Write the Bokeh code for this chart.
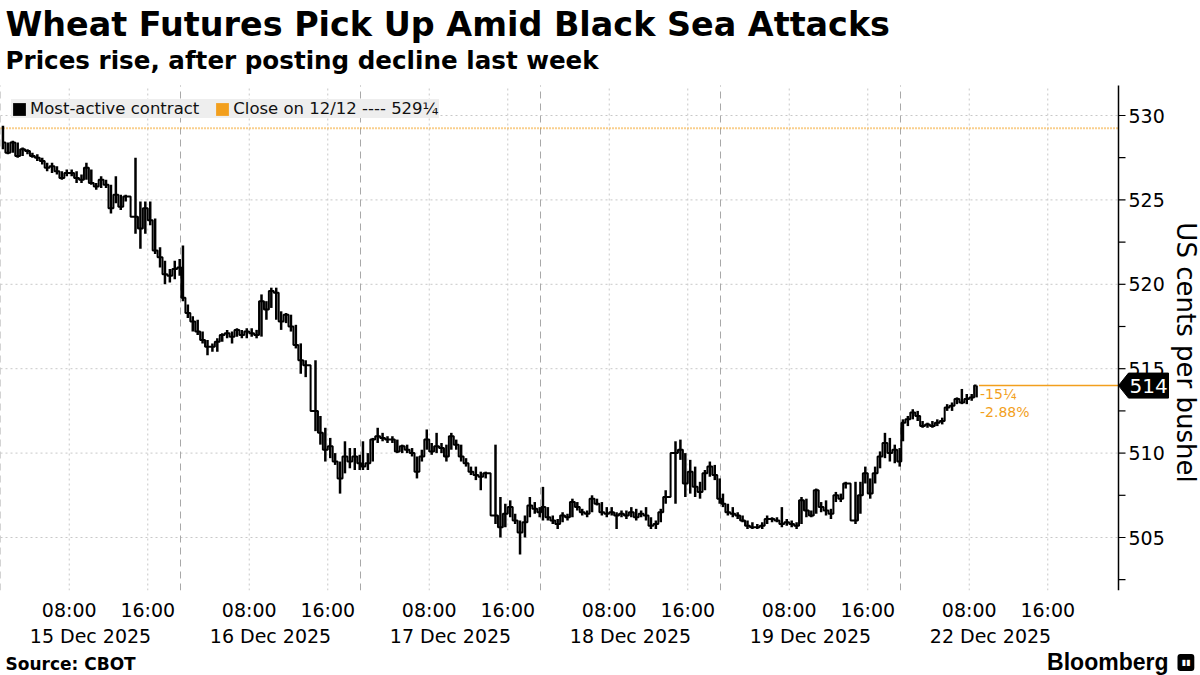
import math
from bokeh.plotting import figure
from bokeh.layouts import column
from bokeh.models import (Range1d, LinearAxis, FixedTicker, Label, Legend, LegendItem)
from bokeh.core.properties import value
from bokeh.embed import file_html
from bokeh.resources import INLINE

# ---------------- text ----------------
title_text = "Wheat Futures Pick Up Amid Black Sea Attacks"
subtitle_text = "Prices rise, after posting decline last week"
source_text = "Source: CBOT"
brand_text = "Bloomberg"
y_label = "US cents per bushel"
series_label = "Most-active contract"
close_label = "Close on 12/12 ---- 529\u00bc"
day_labels = ["15 Dec 2025", "16 Dec 2025", "17 Dec 2025",
              "18 Dec 2025", "19 Dec 2025", "22 Dec 2025"]
hour_labels = ["08:00", "16:00"]
hour_values = [8, 16]
y_ticks = [505, 510, 515, 520, 525, 530]
y_minor = [502.5, 507.5, 512.5, 517.5, 522.5, 527.5]
prev_close = 529.25

# ---------------- data: 30-minute bars from 01:00 UTC (None = CBOT break) ----------------
d1_close = [528.4, 527.8, 528.4, 527.6, 528.0, 527.9, 527.6, 527.5, 527.3, 526.9, 527.0, 526.7, 526.3,
            526.6, 526.6, 526.3, 526.2, 526.9, 526.0, 525.8, 526.2, 525.9, 524.5, 525.3, 524.6, 525.2,
            None, 524.0, 523.3, 524.5, 523.8, 522.0, 521.6, 520.6, 520.5, 520.9, 521.0]
d1_high = [529.4, 528.4, 528.5, 528.4, 528.1, 528.0, 527.8, 527.7, 527.5, 527.2, 527.2, 527.0, 526.7,
           526.8, 526.8, 526.7, 526.5, 527.2, 526.8, 526.0, 526.4, 526.2, 525.9, 526.4, 525.3, 525.3,
           None, 527.5, 524.9, 524.9, 524.9, 523.9, 522.2, 521.4, 520.9, 521.4, 521.5]
d1_low = [528.0, 527.7, 527.8, 527.5, 527.6, 527.7, 527.5, 527.3, 527.1, 526.7, 526.6, 526.5, 526.2,
          526.4, 526.4, 526.0, 526.0, 526.2, 525.9, 525.6, 525.7, 525.7, 524.2, 524.8, 524.4, 524.9,
          None, 523.0, 522.1, 523.0, 523.5, 521.8, 521.0, 520.0, 520.1, 520.3, 520.5]

d2_close = [519.2, 518.3, 517.8, 517.2, 516.7, 516.3, 516.3, 516.6, 517.0, 517.1, 516.9, 517.3, 517.0,
            517.2, 517.1, 517.0, 519.0, 518.5, 519.6, 519.5, 517.8, 518.2, 517.5, 516.4, 515.5, 515.2,
            None, 512.5, 511.2, 510.2, 510.4, 509.5, 508.5, 509.8, 509.5, 509.8, 509.4]
d2_high = [522.3, 518.8, 518.1, 517.9, 517.2, 516.7, 516.5, 516.8, 517.1, 517.3, 517.2, 517.4, 517.3,
           517.4, 517.4, 517.3, 519.4, 519.0, 519.8, 519.8, 518.4, 518.3, 518.2, 517.6, 516.5, 515.5,
           None, 515.5, 512.2, 511.5, 510.9, 510.0, 509.5, 510.7, 510.3, 510.3, 509.9]
d2_low = [519.0, 518.0, 517.2, 517.0, 516.5, 515.8, 516.0, 516.0, 516.6, 516.8, 516.5, 516.9, 516.8,
          516.8, 516.9, 516.8, 516.9, 517.9, 518.6, 517.9, 517.3, 517.7, 517.2, 516.2, 514.7, 514.5,
          None, 511.3, 510.5, 509.5, 509.7, 509.3, 507.6, 508.8, 509.1, 509.0, 509.0]

d3_close = [509.2, 509.4, 510.8, 511.0, 510.9, 510.8, 510.8, 510.1, 510.4, 510.2, 510.0, 508.9, 509.8,
            510.8, 510.1, 510.4, 510.3, 509.8, 511.0, 510.5, 509.8, 509.4, 508.9, 508.7, 508.6, 508.8,
            None, 506.3, 505.6, 506.4, 506.8, 506.0, 505.3, 505.9, 506.9, 506.7, 506.5]
d3_high = [510.7, 510.0, 510.9, 511.5, 511.2, 511.0, 511.0, 510.8, 510.5, 510.5, 510.3, 509.8, 510.2,
           511.4, 510.6, 511.2, 510.6, 510.5, 511.2, 510.8, 510.5, 509.7, 509.2, 509.2, 508.9, 508.9,
           None, 510.5, 507.4, 507.0, 507.2, 506.4, 506.0, 506.3, 507.4, 507.1, 506.8]
d3_low = [509.0, 509.0, 509.5, 510.6, 510.7, 510.6, 510.6, 510.0, 510.0, 510.0, 509.8, 508.5, 509.5,
          510.2, 509.9, 510.0, 510.0, 509.5, 510.2, 510.2, 509.5, 509.2, 508.7, 508.4, 507.8, 508.5,
          None, 505.8, 505.0, 505.6, 506.2, 505.8, 504.0, 505.0, 506.2, 506.4, 506.2]

d4_close = [506.8, 506.2, 506.0, 505.8, 506.3, 506.2, 507.1, 506.8, 506.5, 506.4, 507.3, 507.0, 506.5,
            506.4, 506.5, 506.3, 506.4, 506.3, 506.5, 506.2, 506.4, 506.3, 505.7, 505.8, 506.5, 507.4,
            None, 510.0, 510.2, 508.2, 508.9, 508.0, 507.7, 508.8, 509.2, 508.7, 507.3]
d4_high = [508.0, 506.8, 506.3, 506.1, 506.5, 506.4, 507.3, 507.1, 506.7, 506.6, 507.5, 507.3, 507.1,
           506.8, 506.8, 506.5, 506.6, 506.6, 506.8, 506.7, 506.6, 506.8, 506.2, 506.0, 506.7, 507.8,
           None, 510.7, 510.8, 510.0, 509.6, 509.2, 508.3, 509.0, 509.5, 509.3, 508.5]
d4_low = [506.0, 506.0, 505.8, 505.5, 505.9, 506.0, 506.2, 506.6, 506.3, 506.2, 506.5, 506.9, 506.3,
          506.2, 506.3, 505.5, 506.2, 506.1, 506.2, 506.0, 506.2, 506.0, 505.5, 505.5, 505.9, 507.0,
          None, 507.0, 509.6, 507.4, 507.6, 507.4, 507.3, 507.8, 508.6, 508.4, 507.0]

d5_close = [507.0, 506.5, 506.4, 506.3, 506.0, 505.7, 505.6, 505.6, 505.7, 506.1, 506.1, 506.0, 505.8,
            505.9, 505.8, 505.7, 507.2, 506.6, 506.3, 507.8, 506.8, 506.6, 506.4, 507.5, 507.3, 508.2,
            None, 506.0, 507.5, 508.8, 507.6, 508.8, 509.8, 510.6, 510.0, 510.2, 509.5]
d5_high = [507.6, 507.0, 506.8, 506.5, 506.3, 506.0, 505.9, 505.8, 505.9, 506.3, 506.2, 506.2, 506.8,
           506.1, 506.0, 505.9, 507.4, 507.3, 506.6, 507.9, 507.1, 507.2, 506.7, 507.7, 507.6, 508.3,
           None, 508.3, 508.3, 509.2, 508.5, 509.2, 510.1, 511.2, 510.9, 510.5, 510.3]
d5_low = [506.8, 506.3, 506.2, 506.1, 505.9, 505.5, 505.5, 505.5, 505.5, 505.8, 505.9, 505.9, 505.6,
          505.7, 505.6, 505.5, 505.8, 506.2, 506.2, 506.4, 506.5, 506.3, 506.1, 507.1, 507.1, 507.9,
          None, 505.8, 506.4, 508.2, 507.3, 508.2, 509.1, 509.7, 509.5, 509.4, 509.2]

d6_close = [511.8, 512.0, 512.4, 512.2, 511.6, 511.7, 511.6, 511.8, 511.9, 512.7, 512.8, 513.2, 513.0,
            513.2, 513.3, 514.0]
d6_high = [512.0, 512.2, 512.6, 512.5, 511.9, 511.8, 511.9, 512.0, 512.1, 512.9, 513.0, 513.3, 513.8,
           513.5, 513.5, 514.0]
d6_low = [510.7, 511.6, 512.0, 511.9, 511.5, 511.5, 511.5, 511.6, 511.7, 512.5, 512.5, 512.9, 512.9,
          512.9, 513.1, 513.3]

days_close = [d1_close, d2_close, d3_close, d4_close, d5_close, d6_close]
days_high = [d1_high, d2_high, d3_high, d4_high, d5_high, d6_high]
days_low = [d1_low, d2_low, d3_low, d4_low, d5_low, d6_low]

# ---------------- session axis (gaps between sessions removed) ----------------
SESSION_START = 1.0             # 01:00 UTC
DAY_LEN = 18.0 + 1.0 / 3.0      # 01:00 -> 19:20 UTC
BAR = 0.5
DAY_PX = 180.0                  # pixels per session
W, H_MAIN, H_FOOT = 1200, 650, 25
FRAME_BOTTOM_PX = 590           # x axes live below this
X_AXIS = 1118 / DAY_PX * DAY_LEN        # where the price axis sits
X_RIGHT = W / DAY_PX * DAY_LEN
PX_X = DAY_LEN / DAY_PX                  # data units per pixel (x)
PX_PER_CENT = 16.88
PX_Y = 1 / PX_PER_CENT                   # data units per pixel (y)
Y_BOT = 505 - 53 * PX_Y                  # frame bottom
Y_PLOT_TOP = 530 + 30 * PX_Y             # top of plotting area
Y_TOP = 530 + 115 * PX_Y                 # top of canvas

xs, cs, hs, ls = [], [], [], []
for d, (cc, hh, ll) in enumerate(zip(days_close, days_high, days_low)):
    for k, (c, h, l) in enumerate(zip(cc, hh, ll)):
        if c is None:
            continue
        xs.append(d * DAY_LEN + k * BAR + BAR / 2)
        cs.append(c)
        hs.append(h)
        ls.append(l)

last_close = cs[-1]
last_x = xs[-1] + BAR / 2
diff = last_close - prev_close
whole = int(abs(diff))
frac = {0.0: "", 0.25: "\u00bc", 0.5: "\u00bd", 0.75: "\u00be"}[round(abs(diff) - whole, 2)]
chg_text = ("-" if diff < 0 else "+") + f"{whole}{frac}"
pct_text = f"{diff / prev_close * 100:+.2f}%"

hour_ticks, hour_over = [], {}
for d in range(7):
    for lab, hv in zip(hour_labels, hour_values):
        t = d * DAY_LEN + (hv - SESSION_START)
        if t < X_AXIS:
            hour_ticks.append(t)
            hour_over[t] = lab
day_starts = [d * DAY_LEN for d in range(len(day_labels))]
day_centers = [d * DAY_LEN + DAY_LEN / 2 for d in range(len(day_labels))]
day_over = {c: lab for c, lab in zip(day_centers, day_labels)}

FONT = "DejaVu Sans"
ORANGE = "#F29F1D"

p_main = figure(width=W, height=H_MAIN, output_backend="svg", toolbar_location=None,
                x_range=Range1d(0, X_RIGHT), y_range=Range1d(Y_BOT, Y_TOP),
                x_axis_type=None, y_axis_type=None,
                min_border_left=0, min_border_right=0, min_border_top=0,
                min_border_bottom=H_MAIN - FRAME_BOTTOM_PX,
                outline_line_color=None, background_fill_color="white", border_fill_color="white")

# grid lines (limited to the plotting area)
p_main.segment(x0=[0] * len(y_ticks), y0=y_ticks, x1=[X_AXIS] * len(y_ticks), y1=y_ticks,
               line_color="#c8c8c8", line_dash="2 3", line_width=1)
p_main.segment(x0=hour_ticks, y0=[Y_BOT] * len(hour_ticks), x1=hour_ticks, y1=[Y_PLOT_TOP] * len(hour_ticks),
               line_color="#c8c8c8", line_dash="2 3", line_width=1)
p_main.segment(x0=day_starts, y0=[Y_BOT] * len(day_starts), x1=day_starts, y1=[Y_PLOT_TOP] * len(day_starts),
               line_color="#a8a8a8", line_dash="7 5", line_width=1)

# previous close line
p_main.segment(x0=[0], y0=[prev_close], x1=[X_AXIS], y1=[prev_close],
               line_color=ORANGE, line_dash="1 2", line_width=2)

# price bars
p_main.segment(x0=xs, y0=ls, x1=xs, y1=hs, line_color="black", line_width=2.5)
p_main.step(xs, cs, mode="center", line_color="black", line_width=2)
p_main.segment(x0=[last_x], y0=[last_close], x1=[X_AXIS], y1=[last_close], line_color=ORANGE, line_width=1.5)

# price axis on the right (drawn in the frame so the last-price tag can sit over it)
all_y = y_ticks + y_minor
p_main.segment(x0=[X_AXIS], y0=[Y_BOT], x1=[X_AXIS], y1=[Y_PLOT_TOP], line_color="black", line_width=1.5)
p_main.ray(x=[X_AXIS] * len(all_y), y=all_y, length=7, length_units="screen", angle=0,
           line_color="black", line_width=1.2)
p_main.text(x=[X_AXIS] * len(y_ticks), y=y_ticks, text=[f"{t}" for t in y_ticks], x_offset=10,
            text_font=value(FONT), text_font_size="19px", text_baseline="middle", text_align="left",
            text_color="black")

# last price tag
tag_x = [X_AXIS, X_AXIS + 10 * PX_X, X_AXIS + 50 * PX_X, X_AXIS + 50 * PX_X, X_AXIS + 10 * PX_X]
tag_y = [last_close, last_close + 12.5 * PX_Y, last_close + 12.5 * PX_Y,
         last_close - 12.5 * PX_Y, last_close - 12.5 * PX_Y]
p_main.patch(tag_x, tag_y, fill_color="black", line_color="black")
p_main.text(x=[X_AXIS], y=[last_close], text=[f"{last_close:.0f}"], x_offset=11,
            text_font=value(FONT), text_font_size="20px", text_baseline="middle", text_align="left",
            text_color="white")
p_main.add_layout(Label(x=last_x, y=last_close, x_offset=1, y_offset=-8, text=chg_text, text_color=ORANGE,
                        text_font=FONT, text_font_size="14px", text_baseline="middle", text_align="left"))
p_main.add_layout(Label(x=last_x, y=last_close, x_offset=1, y_offset=-26, text=pct_text, text_color=ORANGE,
                        text_font=FONT, text_font_size="14px", text_baseline="middle", text_align="left"))

# axis title
p_main.add_layout(Label(x=1185, y=FRAME_BOTTOM_PX - 352, x_units="screen", y_units="screen", text=y_label,
                        angle=-math.pi / 2, text_font=FONT, text_font_size="26px",
                        text_baseline="middle", text_align="center", text_color="black"))

# legend
nan = float("nan")
r_black = p_main.quad(left=[nan], right=[nan], top=[nan], bottom=[nan], fill_color="black", line_color=None)
r_orange = p_main.quad(left=[nan], right=[nan], top=[nan], bottom=[nan], fill_color=ORANGE, line_color=None)
legend = Legend(items=[LegendItem(label=series_label, renderers=[r_black]),
                       LegendItem(label=close_label, renderers=[r_orange])],
                location=(11, FRAME_BOTTOM_PX - 118), orientation="horizontal",
                label_text_font=FONT, label_text_font_size="16.5px", label_text_color="#111111",
                background_fill_color="#eeeeee", background_fill_alpha=1.0,
                border_line_color=None, padding=7, spacing=15, margin=0,
                glyph_width=16, glyph_height=16, label_standoff=3, label_height=16)
p_main.add_layout(legend)

# titles
p_main.add_layout(Label(x=5, y=FRAME_BOTTOM_PX - 24, x_units="screen", y_units="screen", text=title_text,
                        text_font=FONT, text_font_style="bold", text_font_size="33.4px",
                        text_baseline="middle", text_color="black"))
p_main.add_layout(Label(x=5, y=FRAME_BOTTOM_PX - 60, x_units="screen", y_units="screen", text=subtitle_text,
                        text_font=FONT, text_font_style="bold", text_font_size="24.6px",
                        text_baseline="middle", text_color="black"))

# x axes (time of day, then session date)
ax_h = LinearAxis(ticker=FixedTicker(ticks=hour_ticks), major_label_overrides=hour_over,
                  axis_line_color=None, major_tick_line_color=None, minor_tick_line_color=None,
                  major_tick_in=0, major_tick_out=0, minor_tick_in=0, minor_tick_out=0,
                  major_label_text_font=FONT, major_label_text_font_size="19px",
                  major_label_text_color="black", major_label_standoff=8)
ax_d = LinearAxis(ticker=FixedTicker(ticks=day_centers), major_label_overrides=day_over,
                  axis_line_color=None, major_tick_line_color=None, minor_tick_line_color=None,
                  major_tick_in=0, major_tick_out=0, minor_tick_in=0, minor_tick_out=0,
                  major_label_text_font=FONT, major_label_text_font_size="19px",
                  major_label_text_color="black", major_label_standoff=1)
p_main.add_layout(ax_h, "below")
p_main.add_layout(ax_d, "below")

# footer
p_foot = figure(width=W, height=H_FOOT, output_backend="svg", toolbar_location=None,
                x_range=Range1d(0, W), y_range=Range1d(0, H_FOOT),
                x_axis_type=None, y_axis_type=None,
                min_border_left=0, min_border_right=0, min_border_top=0, min_border_bottom=0,
                outline_line_color=None, background_fill_color="white", border_fill_color="white")
p_foot.add_layout(Label(x=5, y=12, x_units="screen", y_units="screen", text=source_text,
                        text_font=FONT, text_font_style="bold", text_font_size="17px",
                        text_baseline="middle", text_color="black"))
p_foot.add_layout(Label(x=1168, y=14, x_units="screen", y_units="screen", text=brand_text,
                        text_font="Liberation Sans", text_font_style="bold", text_font_size="23px",
                        text_baseline="middle", text_align="right", text_color="black"))
p_foot.add_layout(Label(x=1177, y=13, x_units="screen", y_units="screen", text="\u25ae\u25ae",
                        text_font=FONT, text_font_size="8px", text_baseline="middle", text_align="left",
                        text_color="white", background_fill_color="black", padding=4, border_radius=3))

p = column(p_main, p_foot, spacing=0)
open("out.html", "w").write(file_html(p, INLINE))
